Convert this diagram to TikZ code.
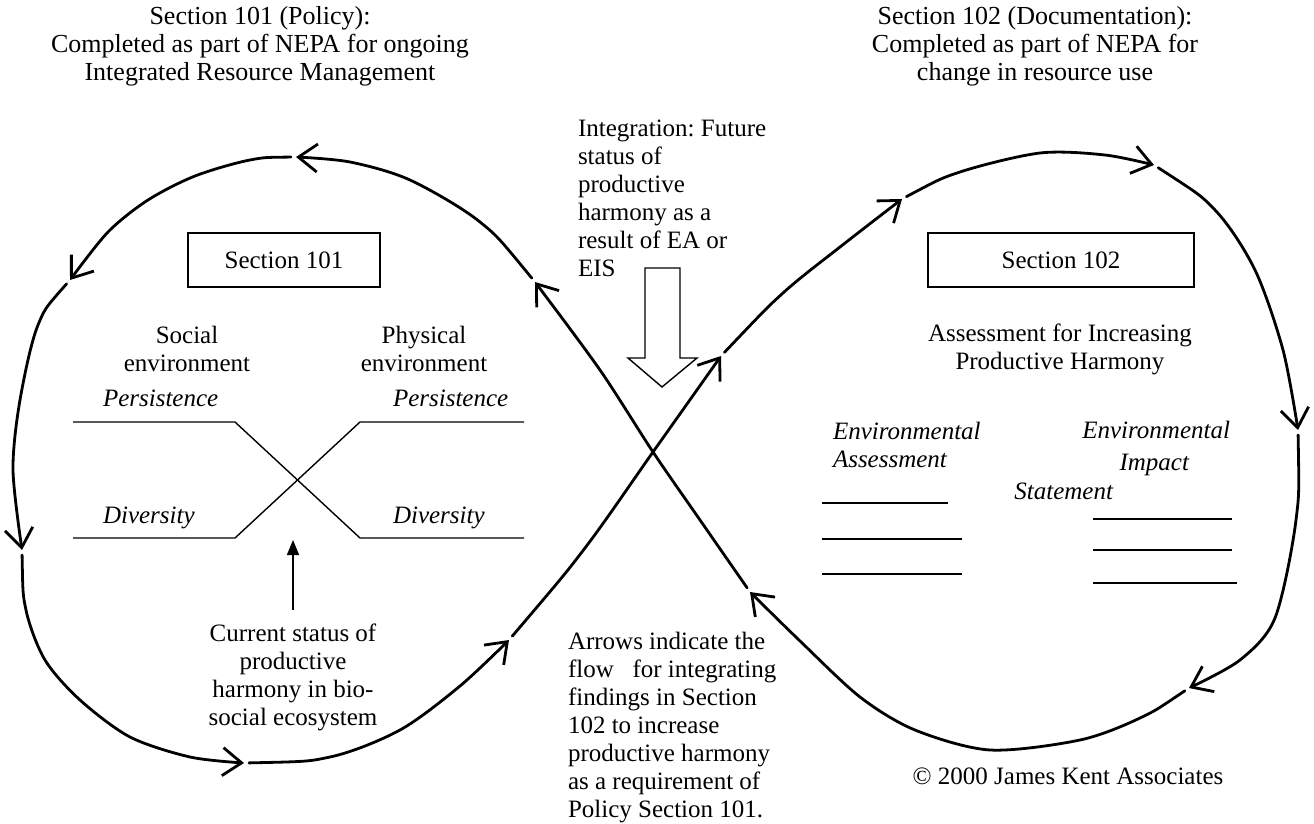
\documentclass[tikz,border=0pt]{standalone}
\usepackage{fontspec}
\setmainfont{Liberation Serif}
\usetikzlibrary{arrows.meta}
\frenchspacing

\begin{document}
\begin{tikzpicture}[x=1pt, y=-1pt,
    every node/.style={font=\fontsize{25}{28}\selectfont, inner sep=0pt, outer sep=0pt},
    flow/.style={line width=2.8pt, line cap=round, shorten <=5pt,
      -{Straight Barb[length=19pt, width=28pt, line width=2.8pt]}},
    thin line/.style={line width=1.4pt},
    pointer/.style={line width=1.4pt, -{Triangle[length=15pt, width=12pt]}},
    title/.style={align=center},
    heading/.style={align=center, font=\fontsize{26}{28}\selectfont},
    sectionbox/.style={draw, line width=1.4pt, minimum height=54pt},
    tag/.style={font=\fontsize{25}{28}\selectfont\itshape}]
    \useasboundingbox (0,0) rectangle (1314,824);

    % Headings
    \node[heading] (titleL) at (260,46) {Section 101 (Policy):\\Completed as part of NEPA for ongoing\\Integrated Resource Management};
    \node[heading] (titleR) at (1035,46) {Section 102 (Documentation):\\Completed as part of NEPA for\\change in resource use};

    % Section 101 side
    \node[sectionbox, minimum width=192pt] (sec101) at (284,260) {Section 101};
    \node[title] (social) at (187,349) {Social\\environment};
    \node[title] (physical) at (424,349) {Physical\\environment};
    \node[tag, anchor=base west] (persL) at (103,406) {Persistence};
    \node[tag, anchor=base west] (persR) at (393,406) {Persistence};
    \node[tag, anchor=base west] (divL) at (103,523) {Diversity};
    \node[tag, anchor=base west] (divR) at (393,523) {Diversity};
    \draw[thin line] (73,422) -- (235,422) -- (360,538) -- (524,538);
    \draw[thin line] (73,538) -- (235,538) -- (360,422) -- (524,422);
    \coordinate (crossmid) at (293,540);
    \node[title] (current) at (293,677) {Current status of\\productive\\harmony in bio-\\social ecosystem};
    \draw[pointer, shorten <=14pt] (current.north) -- (crossmid);

    % Integration
    \node[align=left, anchor=north west] (integration) at (578,120) {Integration: Future\\status of\\productive\\harmony as a\\result of EA or\\EIS};
    \draw[thin line] (645,268) -- (680,268) -- (680,358) -- (697,358) -- (662,387) -- (628,358) -- (645,358) -- cycle;

    % Section 102 side
    \node[sectionbox, minimum width=266pt] (sec102) at (1061,260) {Section 102};
    \node[title] (assess) at (1060,349) {Assessment for Increasing\\Productive Harmony};
    \node[tag, align=left, anchor=north west] (ea) at (833,422) {Environmental\\Assessment};
    \node[tag, anchor=base east] (eisA) at (1230,438) {Environmental};
    \node[tag, anchor=base east] (eisB) at (1189,470) {Impact};
    \node[tag, anchor=base east] (eisC) at (1113,499) {Statement};
    \draw[thin line] (822,503) -- (948,503);
    \draw[thin line] (822,539) -- (962,539);
    \draw[thin line] (822,574) -- (962,574);
    \draw[thin line] (1093,519) -- (1232,519);
    \draw[thin line] (1093,550) -- (1232,550);
    \draw[thin line] (1093,583) -- (1237,583);

    % Notes
    \node[align=left, anchor=north west] (arrowsnote) at (568,632) {Arrows indicate the\\flow\ \ \ for integrating\\findings in Section\\102 to increase\\productive harmony\\as a requirement of\\Policy Section 101.};
    \node (copyright) at (1068,776) {\textcopyright{} 2000 James Kent Associates};

    % Figure eight
    \coordinate (j1) at (296,157);
    \coordinate (j2) at (70,280);
    \coordinate (j3) at (22,550);
    \coordinate (j4) at (244,763);
    \coordinate (j5) at (509,640);
    \coordinate (j6) at (721,356);
    \coordinate (j7) at (902,199);
    \coordinate (j8) at (1154,165);
    \coordinate (j9) at (1298,430);
    \coordinate (j10) at (1189,688);
    \coordinate (j11) at (750,592);
    \coordinate (j12) at (535,282);
    \draw[flow] plot[smooth] coordinates {(j12) (480,222) (410,180) (350,162) (j1)};
    \draw[flow] plot[smooth] coordinates {(j1) (250,160) (195,176) (148,200) (108,232) (j2)};
    \draw[flow] plot[smooth] coordinates {(j2) (38,325) (20,400) (13,470) (j3)};
    \draw[flow] plot[smooth] coordinates {(j3) (26,610) (45,660) (80,700) (130,737) (190,757) (j4)};
    \draw[flow] plot[smooth] coordinates {(j4) (330,757) (400,730) (460,686) (j5)};
    \draw[flow] plot[smooth] coordinates {(j5) (585,548) (653,452) (j6)};
    \draw[flow] plot[smooth] coordinates {(j6) (783,293) (840,247) (j7)};
    \draw[flow] plot[smooth] coordinates {(j7) (960,172) (1040,153) (1105,155) (j8)};
    \draw[flow] plot[smooth] coordinates {(j8) (1215,210) (1255,270) (1283,350) (j9)};
    \draw[flow] plot[smooth] coordinates {(j9) (1296,520) (1275,618) (1240,660) (j10)};
    \draw[flow] plot[smooth] coordinates {(j10) (1140,718) (1080,740) (990,750) (915,730) (860,697) (800,641) (j11)};
    \draw[flow] plot[smooth] coordinates {(j11) (700,520) (653,452) (600,370) (j12)};
\end{tikzpicture}
\end{document}
